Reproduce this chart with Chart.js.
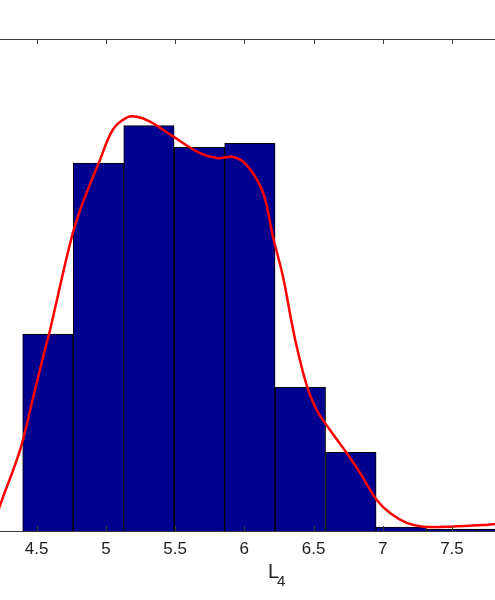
<!DOCTYPE html>
<html>
<head>
<meta charset="utf-8">
<script src="https://cdn.jsdelivr.net/npm/chart.js@4.4.0/dist/chart.umd.min.js"></script>
<style>
  html, body { margin: 0; padding: 0; background: #fff; }
  #wrap { width: 495px; height: 600px; }
</style>
</head>
<body>
<div id="wrap"><canvas id="histChart" width="495" height="600"></canvas></div>
<script>
// histogram bins (centres) and counts
const binCenters = [4.581, 4.946, 5.311, 5.676, 6.040, 6.405, 6.770, 7.134, 7.499, 7.864];
const binCounts = [100, 187, 206, 195, 197, 73, 40, 2, 1, 1];

// fitted density curve (same units as counts)
const curveX = [4.20, 4.235, 4.379, 4.475, 4.548, 4.596, 4.741, 4.813, 4.957, 5.051, 5.150, 5.223,
    5.319, 5.485, 5.680, 5.801, 5.918, 6.017, 6.135, 6.207, 6.280, 6.342, 6.379, 6.451,
    6.523, 6.619, 6.740, 6.836, 6.957, 7.053, 7.173, 7.291, 7.486, 7.725, 7.811, 7.85];
const curveY = [5, 13, 41, 68, 89, 102, 146, 163, 188.5, 204, 210, 210.5,
    208, 200.5, 192, 189.5, 190, 186, 172, 149.5, 129, 106, 93.5, 74,
    61.5, 51.3, 39.6, 29.5, 15.8, 9.1, 4.1, 2.2, 2.2, 3.0, 3.6, 3.8];

const xTicks = [4.5, 5, 5.5, 6, 6.5, 7, 7.5];
const xMin = 4.235, xMax = 7.811;
const yMax = 250;

const axisColor = '#3a3a3a';

// inner tick marks + top frame line, MATLAB style
const frameTicks = {
    id: 'frameTicks',
    afterDatasetsDraw(chart) {
        const ctx = chart.ctx;
        const area = chart.chartArea;
        const xs = chart.scales.x;
        ctx.save();
        ctx.strokeStyle = axisColor;
        ctx.lineWidth = 1;
        ctx.beginPath();
        ctx.moveTo(area.left, area.top + 0.5);
        ctx.lineTo(area.right, area.top + 0.5);
        xTicks.forEach((t) => {
            const px = Math.round(xs.getPixelForValue(t)) + 0.5;
            ctx.moveTo(px, area.top);
            ctx.lineTo(px, area.top + 5);
            ctx.moveTo(px, area.bottom);
            ctx.lineTo(px, area.bottom - 5);
        });
        ctx.stroke();

        // axis label L with subscript 4
        const cx = xs.getPixelForValue(6.25);
        ctx.fillStyle = '#222';
        ctx.textBaseline = 'alphabetic';
        ctx.textAlign = 'left';
        ctx.font = '20px "Liberation Sans", Arial, sans-serif';
        ctx.fillText('L', cx - 11, 578);
        ctx.font = '15px "Liberation Sans", Arial, sans-serif';
        ctx.fillText('4', cx - 2, 586);
        ctx.restore();
    }
};

const barPoints = binCenters.map((c, i) => ({x: c, y: binCounts[i]}));
const curvePoints = curveX.map((c, i) => ({x: c, y: curveY[i]}));

new Chart(document.getElementById('histChart'), {
    type: 'bar',
    data: {
        datasets: [
            {
                type: 'line',
                data: curvePoints,
                borderColor: '#ff0000',
                borderWidth: 2.5,
                pointRadius: 0,
                tension: 0.35,
                fill: false,
                order: 0
            },
            {
                type: 'bar',
                data: barPoints,
                backgroundColor: '#00008f',
                borderColor: '#000000',
                borderWidth: 1,
                barPercentage: 1,
                categoryPercentage: 1,
                order: 1
            }
        ]
    },
    options: {
        responsive: false,
        animation: false,
        layout: {padding: {top: 39, left: 0, right: 0, bottom: 0}},
        plugins: {legend: {display: false}, tooltip: {enabled: false}},
        scales: {
            x: {
                type: 'linear',
                offset: false,
                min: xMin,
                max: xMax,
                afterBuildTicks: (scale) => {
                    scale.ticks = xTicks.map((v) => ({value: v}));
                },
                afterFit: (scale) => { scale.height = 69; },
                grid: {display: false},
                border: {display: true, color: axisColor, width: 1},
                ticks: {
                    color: '#222',
                    padding: 0,
                    font: {family: '"Liberation Sans", Arial, sans-serif', size: 17},
                    callback: (v) => String(v)
                }
            },
            y: {
                display: false,
                min: 0,
                max: yMax
            }
        }
    },
    plugins: [frameTicks]
});
</script>
</body>
</html>
